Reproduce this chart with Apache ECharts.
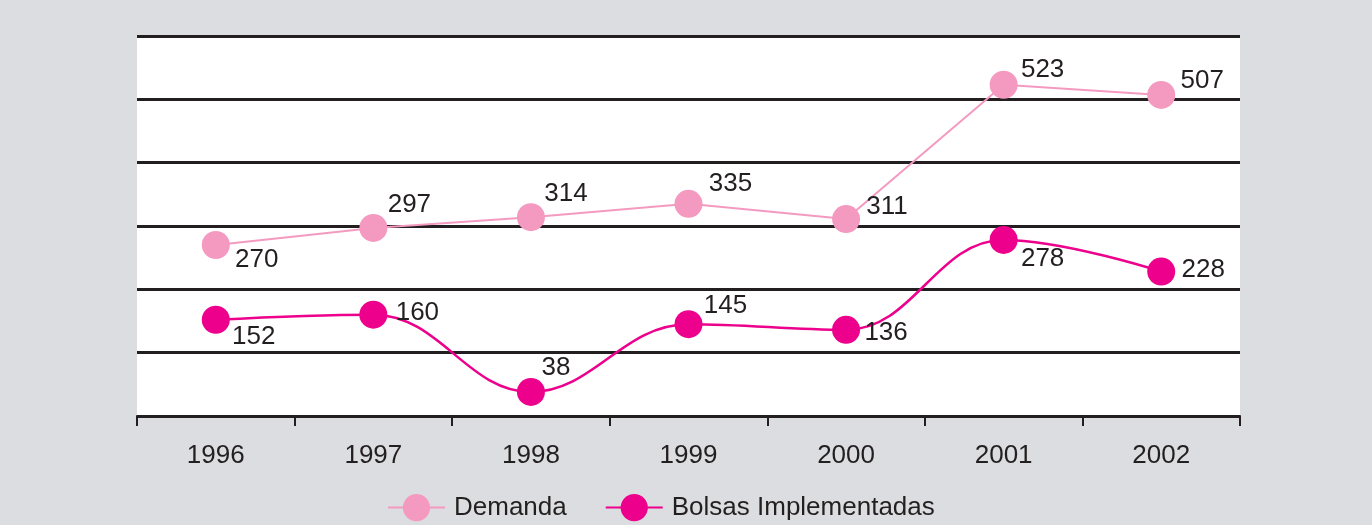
<!DOCTYPE html>
<html>
<head>
<meta charset="utf-8">
<script src="https://cdn.jsdelivr.net/npm/echarts@6/dist/echarts.min.js"></script>
<style>
html,body{margin:0;padding:0;background:#dcdde0;}
#chart{width:1372px;height:525px;}
</style>
</head>
<body>
<div id="chart"></div>
<script>
var anos = ['1996', '1997', '1998', '1999', '2000', '2001', '2002'];
var demanda = [270, 297, 314, 335, 311, 523, 507];
var bolsas = [152, 160, 38, 145, 136, 278, 228];

// label offsets from point centre (style only)
var demandaOffs = [[41, 15], [36, -23], [35, -23], [42, -20], [41, -12], [39, -15], [41, -14]];
var bolsasOffs = [[38, 17], [44, -2], [25, -24], [37, -18], [40, 3], [39, 19], [42, -2]];

var txt = '#231f20';
var font = '"Liberation Sans", Arial, Helvetica, sans-serif';

function mkData(vals, offs){
    return vals.map(function(v, i){
        return {value: v, label: {offset: offs[i]}};
    });
}

var myChart = echarts.init(document.getElementById('chart'));
myChart.setOption({
    backgroundColor: '#dcdde0',
    animation: false,
    textStyle: {fontFamily: font, color: txt},
    grid: {
        left: 137, right: 132, top: 36, bottom: 109,
        show: true, backgroundColor: '#ffffff', borderWidth: 0
    },
    legend: {
        top: 489,
        left: 382,
        itemWidth: 57,
        itemHeight: 34,
        itemGap: 38,
        textStyle: {fontSize: 26, color: txt, fontFamily: font, padding: [0, 0, 0, 4]},
        data: ['Demanda', 'Bolsas Implementadas']
    },
    xAxis: {
        type: 'category',
        data: anos,
        boundaryGap: true,
        axisLine: {lineStyle: {color: txt, width: 2}},
        axisTick: {show: true, length: 10, lineStyle: {color: txt, width: 2}},
        axisLabel: {fontSize: 26, color: txt, margin: 27, fontFamily: font}
    },
    yAxis: {
        type: 'value',
        min: 0, max: 600, interval: 100,
        axisLine: {show: false},
        axisTick: {show: false},
        axisLabel: {show: false},
        splitLine: {lineStyle: {color: txt, width: 3}}
    },
    series: [
        {
            name: 'Demanda',
            type: 'line',
            data: mkData(demanda, demandaOffs),
            symbol: 'circle',
            symbolSize: 28,
            z: 3,
            itemStyle: {color: '#f49ac1'},
            lineStyle: {color: '#f49ac1', width: 2},
            label: {show: true, position: 'inside', fontSize: 26, color: txt, fontFamily: font}
        },
        {
            name: 'Bolsas Implementadas',
            type: 'line',
            data: mkData(bolsas, bolsasOffs),
            smooth: 0.4,
            symbol: 'circle',
            symbolSize: 28,
            z: 4,
            itemStyle: {color: '#ec008c'},
            lineStyle: {color: '#ec008c', width: 2.5},
            label: {show: true, position: 'inside', fontSize: 26, color: txt, fontFamily: font}
        }
    ]
});
</script>
</body>
</html>
